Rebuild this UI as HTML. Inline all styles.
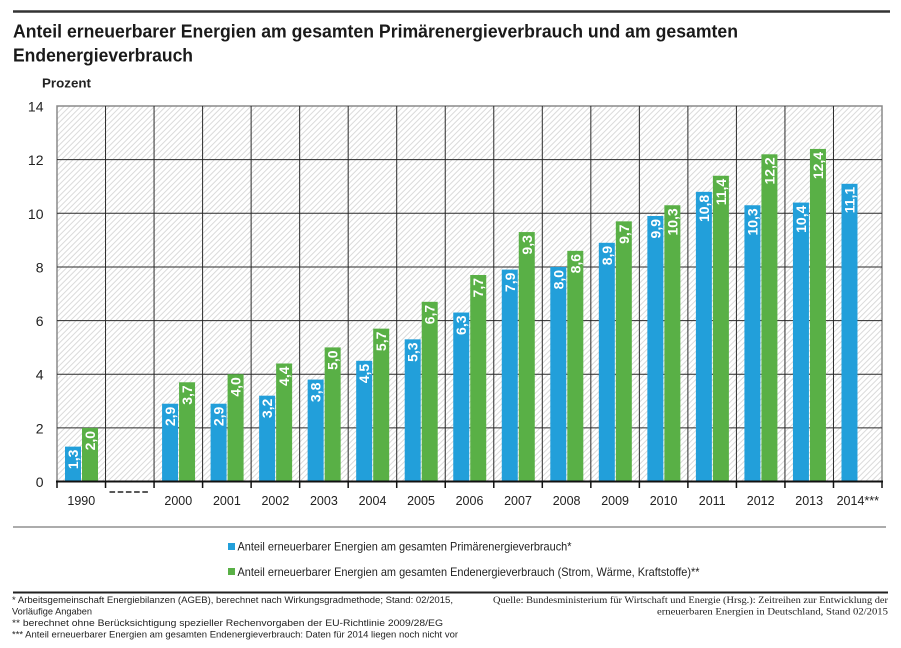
<!DOCTYPE html>
<html><head><meta charset="utf-8">
<style>
html,body{margin:0;padding:0;background:#fff;}
svg{display:block;}
text{font-family:"Liberation Sans",sans-serif;}
</style></head>
<body>
<svg width="901" height="648" viewBox="0 0 901 648" xmlns="http://www.w3.org/2000/svg">
<defs>
<pattern id="h" patternUnits="userSpaceOnUse" width="4" height="4" patternTransform="rotate(45)">
<rect width="4" height="4" fill="#ffffff"/>
<line x1="0.5" y1="0" x2="0.5" y2="4" stroke="#dadada" stroke-width="1"/>
</pattern>
</defs>
<rect width="901" height="648" fill="#fff"/>
<!-- top rule -->
<line x1="13" y1="11.5" x2="890" y2="11.5" stroke="#333" stroke-width="2.5"/>
<!-- title -->
<text x="13" y="37.5" font-size="18" font-weight="bold" fill="#1a1a1a" textLength="725" lengthAdjust="spacingAndGlyphs">Anteil erneuerbarer Energien am gesamten Primärenergieverbrauch und am gesamten</text>
<text x="13" y="61.5" font-size="18" font-weight="bold" fill="#1a1a1a" textLength="180" lengthAdjust="spacingAndGlyphs">Endenergieverbrauch</text>
<text x="42" y="87.5" font-size="13" font-weight="bold" fill="#222" textLength="49" lengthAdjust="spacingAndGlyphs">Prozent</text>

<!-- plot background -->
<rect x="57" y="106" width="825" height="375.5" fill="url(#h)"/>
<!-- frame -->
<rect x="57" y="106" width="825" height="375.5" fill="none" stroke="#8a8a8a" stroke-width="1.5"/>
<!-- horizontal gridlines -->
<g stroke="#2a2a2a" stroke-width="1">
<line x1="57" y1="427.86" x2="882" y2="427.86"/>
<line x1="57" y1="374.22" x2="882" y2="374.22"/>
<line x1="57" y1="320.58" x2="882" y2="320.58"/>
<line x1="57" y1="266.94" x2="882" y2="266.94"/>
<line x1="57" y1="213.3" x2="882" y2="213.3"/>
<line x1="57" y1="159.66" x2="882" y2="159.66"/>
</g>
<!-- vertical gridlines -->
<g stroke="#2a2a2a" stroke-width="1">
<line x1="105.53" y1="106" x2="105.53" y2="481"/>
<line x1="154.06" y1="106" x2="154.06" y2="481"/>
<line x1="202.59" y1="106" x2="202.59" y2="481"/>
<line x1="251.12" y1="106" x2="251.12" y2="481"/>
<line x1="299.65" y1="106" x2="299.65" y2="481"/>
<line x1="348.18" y1="106" x2="348.18" y2="481"/>
<line x1="396.71" y1="106" x2="396.71" y2="481"/>
<line x1="445.24" y1="106" x2="445.24" y2="481"/>
<line x1="493.77" y1="106" x2="493.77" y2="481"/>
<line x1="542.3" y1="106" x2="542.3" y2="481"/>
<line x1="590.83" y1="106" x2="590.83" y2="481"/>
<line x1="639.36" y1="106" x2="639.36" y2="481"/>
<line x1="687.89" y1="106" x2="687.89" y2="481"/>
<line x1="736.42" y1="106" x2="736.42" y2="481"/>
<line x1="784.95" y1="106" x2="784.95" y2="481"/>
<line x1="833.48" y1="106" x2="833.48" y2="481"/>
</g>

<!-- bars -->
<g fill="#229fda">
<rect x="65" y="446.63" width="16" height="34.87"/>
<rect x="162.06" y="403.72" width="16" height="77.78"/>
<rect x="210.59" y="403.72" width="16" height="77.78"/>
<rect x="259.12" y="395.68" width="16" height="85.82"/>
<rect x="307.65" y="379.58" width="16" height="101.92"/>
<rect x="356.18" y="360.81" width="16" height="120.69"/>
<rect x="404.71" y="339.35" width="16" height="142.15"/>
<rect x="453.24" y="312.53" width="16" height="168.97"/>
<rect x="501.77" y="269.62" width="16" height="211.88"/>
<rect x="550.3" y="266.94" width="16" height="214.56"/>
<rect x="598.83" y="242.8" width="16" height="238.7"/>
<rect x="647.36" y="216.0" width="16" height="265.5"/>
<rect x="695.89" y="191.84" width="16" height="289.66"/>
<rect x="744.42" y="205.25" width="16" height="276.25"/>
<rect x="792.95" y="202.57" width="16" height="278.93"/>
<rect x="841.48" y="183.8" width="16" height="297.7"/>
</g>
<g fill="#59b046">
<rect x="82" y="427.86" width="16" height="53.64"/>
<rect x="179.06" y="382.27" width="16" height="99.23"/>
<rect x="227.59" y="374.22" width="16" height="107.28"/>
<rect x="276.12" y="363.49" width="16" height="118.01"/>
<rect x="324.65" y="347.4" width="16" height="134.1"/>
<rect x="373.18" y="328.63" width="16" height="152.87"/>
<rect x="421.71" y="301.81" width="16" height="179.69"/>
<rect x="470.24" y="274.99" width="16" height="206.51"/>
<rect x="518.77" y="232.07" width="16" height="249.43"/>
<rect x="567.3" y="250.85" width="16" height="230.65"/>
<rect x="615.83" y="221.35" width="16" height="260.15"/>
<rect x="664.36" y="205.25" width="16" height="276.25"/>
<rect x="712.89" y="175.75" width="16" height="305.75"/>
<rect x="761.42" y="154.3" width="16" height="327.2"/>
<rect x="809.95" y="148.93" width="16" height="332.57"/>
</g>

<!-- bar labels -->
<g font-size="14" font-weight="bold" fill="#fff" text-anchor="end">
<text transform="translate(78.0,449.6) rotate(-90)">1,3</text>
<text transform="translate(95.0,430.9) rotate(-90)">2,0</text>
<text transform="translate(175.1,406.7) rotate(-90)">2,9</text>
<text transform="translate(192.1,385.3) rotate(-90)">3,7</text>
<text transform="translate(223.6,406.7) rotate(-90)">2,9</text>
<text transform="translate(240.6,377.2) rotate(-90)">4,0</text>
<text transform="translate(272.1,398.7) rotate(-90)">3,2</text>
<text transform="translate(289.1,366.5) rotate(-90)">4,4</text>
<text transform="translate(320.7,382.6) rotate(-90)">3,8</text>
<text transform="translate(337.7,350.4) rotate(-90)">5,0</text>
<text transform="translate(369.2,363.8) rotate(-90)">4,5</text>
<text transform="translate(386.2,331.6) rotate(-90)">5,7</text>
<text transform="translate(417.7,342.4) rotate(-90)">5,3</text>
<text transform="translate(434.7,304.8) rotate(-90)">6,7</text>
<text transform="translate(466.2,315.5) rotate(-90)">6,3</text>
<text transform="translate(483.2,278.0) rotate(-90)">7,7</text>
<text transform="translate(514.8,272.6) rotate(-90)">7,9</text>
<text transform="translate(531.8,235.1) rotate(-90)">9,3</text>
<text transform="translate(563.3,269.9) rotate(-90)">8,0</text>
<text transform="translate(580.3,253.9) rotate(-90)">8,6</text>
<text transform="translate(611.8,245.8) rotate(-90)">8,9</text>
<text transform="translate(628.8,224.4) rotate(-90)">9,7</text>
<text transform="translate(660.4,219.0) rotate(-90)">9,9</text>
<text transform="translate(677.4,208.3) rotate(-90)">10,3</text>
<text transform="translate(708.9,194.8) rotate(-90)">10,8</text>
<text transform="translate(725.9,178.8) rotate(-90)">11,4</text>
<text transform="translate(757.4,208.3) rotate(-90)">10,3</text>
<text transform="translate(774.4,157.3) rotate(-90)">12,2</text>
<text transform="translate(806.0,205.6) rotate(-90)">10,4</text>
<text transform="translate(823.0,151.9) rotate(-90)">12,4</text>
<text transform="translate(854.5,186.8) rotate(-90)">11,1</text>
</g>

<!-- x axis -->
<line x1="56" y1="481.5" x2="883" y2="481.5" stroke="#111" stroke-width="2"/>
<g stroke="#111" stroke-width="1.5">
<line x1="57" y1="481" x2="57" y2="488"/>
<line x1="105.53" y1="481" x2="105.53" y2="488"/>
<line x1="154.06" y1="481" x2="154.06" y2="488"/>
<line x1="202.59" y1="481" x2="202.59" y2="488"/>
<line x1="251.12" y1="481" x2="251.12" y2="488"/>
<line x1="299.65" y1="481" x2="299.65" y2="488"/>
<line x1="348.18" y1="481" x2="348.18" y2="488"/>
<line x1="396.71" y1="481" x2="396.71" y2="488"/>
<line x1="445.24" y1="481" x2="445.24" y2="488"/>
<line x1="493.77" y1="481" x2="493.77" y2="488"/>
<line x1="542.3" y1="481" x2="542.3" y2="488"/>
<line x1="590.83" y1="481" x2="590.83" y2="488"/>
<line x1="639.36" y1="481" x2="639.36" y2="488"/>
<line x1="687.89" y1="481" x2="687.89" y2="488"/>
<line x1="736.42" y1="481" x2="736.42" y2="488"/>
<line x1="784.95" y1="481" x2="784.95" y2="488"/>
<line x1="833.48" y1="481" x2="833.48" y2="488"/>
<line x1="882.01" y1="481" x2="882.01" y2="488"/>
</g>
<line x1="109.5" y1="492" x2="148" y2="492" stroke="#222" stroke-width="1.5" stroke-dasharray="5.6 2.6"/>

<!-- y labels -->
<g font-size="14" fill="#222" text-anchor="end">
<text x="43.5" y="487">0</text>
<text x="43.5" y="433.4">2</text>
<text x="43.5" y="379.7">4</text>
<text x="43.5" y="326.1">6</text>
<text x="43.5" y="272.4">8</text>
<text x="43.5" y="218.8">10</text>
<text x="43.5" y="165.2">12</text>
<text x="43.5" y="111.5">14</text>
</g>

<!-- x labels -->
<g font-size="12.5" fill="#222" text-anchor="middle">
<text x="81.3" y="505">1990</text>
<text x="178.3" y="505">2000</text>
<text x="226.9" y="505">2001</text>
<text x="275.4" y="505">2002</text>
<text x="323.9" y="505">2003</text>
<text x="372.5" y="505">2004</text>
<text x="421.0" y="505">2005</text>
<text x="469.5" y="505">2006</text>
<text x="518.0" y="505">2007</text>
<text x="566.6" y="505">2008</text>
<text x="615.1" y="505">2009</text>
<text x="663.6" y="505">2010</text>
<text x="712.2" y="505">2011</text>
<text x="760.7" y="505">2012</text>
<text x="809.2" y="505">2013</text>
<text x="857.8" y="505">2014***</text>
</g>

<!-- separator -->
<line x1="13" y1="527" x2="886" y2="527" stroke="#7a7a7a" stroke-width="1.2"/>

<!-- legend -->
<rect x="228" y="543" width="7" height="7" fill="#229fda"/>
<text x="237.5" y="550.5" font-size="12" fill="#222" textLength="334" lengthAdjust="spacingAndGlyphs">Anteil erneuerbarer Energien am gesamten Primärenergieverbrauch*</text>
<rect x="228" y="568" width="7" height="7" fill="#59b046"/>
<text x="237.5" y="576" font-size="12" fill="#222" textLength="462" lengthAdjust="spacingAndGlyphs">Anteil erneuerbarer Energien am gesamten Endenergieverbrauch (Strom, Wärme, Kraftstoffe)**</text>

<!-- footer rule -->
<line x1="13" y1="592.5" x2="888" y2="592.5" stroke="#222" stroke-width="2"/>

<!-- footnotes -->
<g font-size="9.5" fill="#222">
<text x="12" y="603" textLength="441" lengthAdjust="spacingAndGlyphs">* Arbeitsgemeinschaft Energiebilanzen (AGEB), berechnet nach Wirkungsgradmethode; Stand: 02/2015,</text>
<text x="12" y="614.5" textLength="80" lengthAdjust="spacingAndGlyphs">Vorläufige Angaben</text>
<text x="12" y="626" textLength="431" lengthAdjust="spacingAndGlyphs">** berechnet ohne Berücksichtigung spezieller Rechenvorgaben der EU-Richtlinie 2009/28/EG</text>
<text x="12" y="637.5" textLength="446" lengthAdjust="spacingAndGlyphs">*** Anteil erneuerbarer Energien am gesamten Endenergieverbrauch: Daten für 2014 liegen noch nicht vor</text>
</g>
<g font-size="9.5" fill="#222">
<text x="493" y="603" textLength="395" lengthAdjust="spacingAndGlyphs" style="font-family:'Liberation Serif',serif">Quelle: Bundesministerium für Wirtschaft und Energie (Hrsg.): Zeitreihen zur Entwicklung der</text>
<text x="657" y="614.5" textLength="231" lengthAdjust="spacingAndGlyphs" style="font-family:'Liberation Serif',serif">erneuerbaren Energien in Deutschland, Stand 02/2015</text>
</g>
</svg>
</body></html>
